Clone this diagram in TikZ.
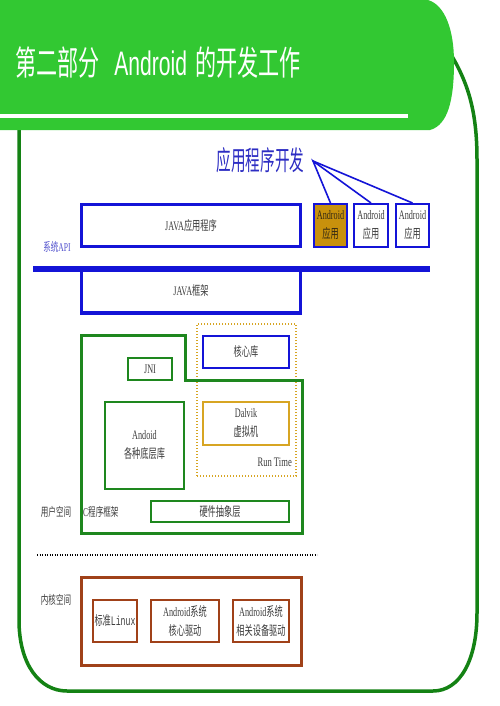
\documentclass[tikz,border=0pt]{standalone}
\usepackage{fontspec}
\usepackage{graphicx}
\setmainfont{Liberation Serif}
\setmonofont{Liberation Mono}
\newfontfamily\cjk{Noto Sans CJK SC}
\newfontfamily\titlesans{Liberation Sans}
\newcommand{\zh}[1]{{\cjk #1}}
\newcommand{\nar}[2][0.63]{\scalebox{#1}[1]{#2}}
\definecolor{bannergreen}{RGB}{50,200,50}
\definecolor{framegreen}{RGB}{20,130,20}
\definecolor{cgreen}{RGB}{30,135,30}
\definecolor{boxblue}{RGB}{20,20,215}
\definecolor{titleblue}{RGB}{45,45,195}
\definecolor{apiblue}{RGB}{80,80,205}
\definecolor{appgold}{RGB}{200,145,12}
\definecolor{dalvikgold}{RGB}{215,165,35}
\definecolor{kbrown}{RGB}{160,65,25}
\definecolor{textgray}{RGB}{60,60,60}
\begin{document}
\begin{tikzpicture}[x=1pt,y=1pt,
		box/.style={draw, inner sep=0pt, text=textgray, font=\fontsize{13}{19}\selectfont, align=center},
		bluebox/.style={box, draw=boxblue, line width=2.5pt},
		greenbox/.style={box, draw=cgreen, line width=2.5pt},
		brownbox/.style={box, draw=kbrown, line width=2.5pt},
		sidelabel/.style={inner sep=0pt, text=textgray, font=\fontsize{12}{14}\selectfont},
		forkline/.style={draw=boxblue, line width=1.6pt}]
	\useasboundingbox (0,0) rectangle (499,-706);
	\fill[white] (0,0) rectangle (499,-706);
	\draw[framegreen, line width=3.5pt] (19,-100) -- (19,-620) .. controls (19,-665) and (40,-691) .. (67,-691) -- (433,-691) .. controls (460,-691) and (477,-660) .. (477,-613) -- (477,-160) .. controls (477,-110) and (468,-80) .. (445,-45);
	\fill[bannergreen] (0,0) -- (428,0) .. controls (445,-5) and (454,-30) .. (454,-62) .. controls (454,-100) and (448,-125) .. (430,-130) -- (0,-130) -- cycle;
	\draw[white, line width=4pt] (0,-116) -- (408,-116);
	\node[anchor=base west, inner sep=0pt, text=white, font=\fontsize{34}{34}\selectfont] (slidetitle) at (15,-76) {\nar[0.62]{\zh{第二部分}\hspace{24pt}\titlesans Android\hspace{13pt}\zh{的开发工作}}};
	\node[anchor=base, inner sep=0pt, text=titleblue, font=\cjk\fontsize{27}{27}\selectfont] (devtitle) at (260.5,-170) {\nar[0.54]{应用程序开发}};
	\coordinate (fork) at (313,-161);
	\node[bluebox, line width=3.5pt, minimum width=219pt, minimum height=42pt] (javaapp) at (191,-225.5) {\nar{JAVA\zh{应用程序}}};
	\node[bluebox, line width=2pt, fill=appgold, text={rgb,255:red,50;green,40;blue,20}, minimum width=33pt, minimum height=43pt] (app1) at (330.5,-225.5) {\nar{Android}\\\nar{\zh{应用}}};
	\node[bluebox, line width=2pt, minimum width=34pt, minimum height=43pt] (app2) at (371,-225.5) {\nar{Android}\\\nar{\zh{应用}}};
	\node[bluebox, line width=2pt, minimum width=33pt, minimum height=43pt] (app3) at (412.5,-225.5) {\nar{Android}\\\nar{\zh{应用}}};
	\draw[forkline] (app1.north) -- (fork) -- (app2.north);
	\draw[forkline] (fork) -- (app3.north);
	\node[sidelabel, text=apiblue] (apilabel) at (57,-247) {\nar{\zh{系统}API}};
	\node[bluebox, line width=3.5pt, minimum width=219pt, minimum height=44pt] (javafw) at (191,-291) {\nar{JAVA\zh{框架}}};
	\draw[boxblue, line width=5.5pt] (33,-269) -- (430,-269);
	\node[draw=dalvikgold, dash pattern=on 1.2pt off 1.8pt, line width=1.3pt, inner sep=0pt, minimum width=99pt, minimum height=152pt] (runtime) at (246.5,-400) {};
	\draw[cgreen, line width=3pt] (81.5,-335) -- (185,-335) -- (185,-380) -- (302,-380) -- (302,-533) -- (81.5,-533) -- cycle;
	\node[greenbox, minimum width=44pt, minimum height=22pt] (jni) at (150,-369) {\nar{JNI}};
	\node[greenbox, minimum width=79pt, minimum height=87pt] (clibs) at (144.5,-445.5) {\nar{Andoid}\\\nar{\zh{各种底层库}}};
	\node[bluebox, minimum width=86pt, minimum height=32pt] (corelib) at (246,-352) {\nar{\zh{核心库}}};
	\node[box, draw=dalvikgold, line width=2.5pt, minimum width=86pt, minimum height=43pt] (dalvik) at (246,-423.5) {\nar{Dalvik}\\\nar{\zh{虚拟机}}};
	\node[sidelabel, anchor=east, font=\fontsize{13}{14}\selectfont] (rtlabel) at (292,-462) {\nar[0.66]{Run Time}};
	\node[greenbox, line width=2pt, minimum width=138pt, minimum height=21pt] (hal) at (220,-511.5) {\nar{\zh{硬件抽象层}}};
	\node[sidelabel, anchor=west] (cframe) at (83,-512) {\nar{C\zh{程序框架}}};
	\node[sidelabel] (userspace) at (56,-512) {\nar{\zh{用户空间}}};
	\draw[black, line width=1.5pt, dash pattern=on 1.2pt off 1.3pt] (37,-555) -- (317,-555);
	\node[brownbox, line width=3pt, minimum width=219.5pt, minimum height=88pt] (kernel) at (191.25,-621) {};
	\node[sidelabel] (kernelspace) at (56,-600) {\nar{\zh{内核空间}}};
	\node[brownbox, minimum width=44pt, minimum height=42pt] (linux) at (115,-621) {\nar{\zh{标准}\ttfamily Linux}};
	\node[brownbox, minimum width=68pt, minimum height=42pt] (coredrv) at (185,-621) {\nar{Android\zh{系统}}\\\nar{\zh{核心驱动}}};
	\node[brownbox, minimum width=56pt, minimum height=42pt] (devdrv) at (261,-621) {\nar{Android\zh{系统}}\\\nar{\zh{相关设备驱动}}};
\end{tikzpicture}
\end{document}
